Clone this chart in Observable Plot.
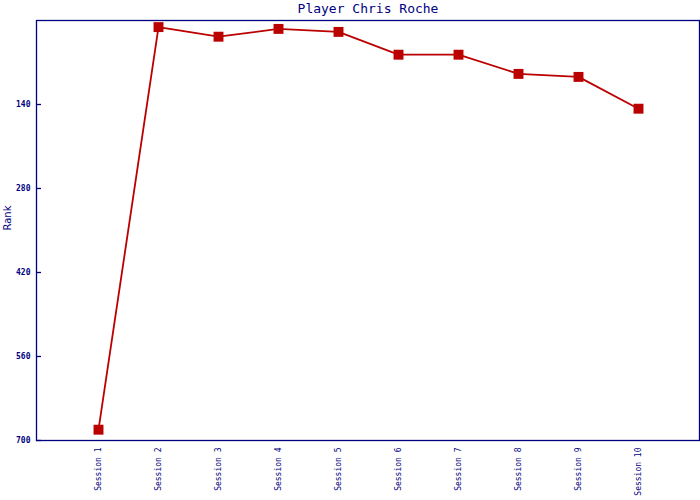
<!DOCTYPE html>
<html>
<head>
<meta charset="utf-8">
<script src="https://cdn.jsdelivr.net/npm/d3@7"></script>
<script src="https://cdn.jsdelivr.net/npm/@observablehq/plot@0.6"></script>
<style>
  body { margin: 0; background: #fff; }
</style>
</head>
<body>
<div id="chart"></div>
<script>
const sessions = ["Session 1","Session 2","Session 3","Session 4","Session 5","Session 6","Session 7","Session 8","Session 9","Session 10"];
const ranks = [682, 11, 27, 14, 19, 57, 57, 89, 94, 147];
const yTicks = [140, 280, 420, 560, 700];
const title = "Player Chris Roche";

const data = sessions.map((s, i) => ({session: s, rank: ranks[i]}));
const navy = "#000080";
const red = "#bb0000";
const W = 700, ML = 36, MR = 1;

const chart = Plot.plot({
  width: W,
  height: 500,
  marginLeft: ML,
  marginRight: MR,
  marginTop: 20,
  marginBottom: 60,
  style: {fontFamily: "DejaVu Sans Mono", color: navy, background: "#fff"},
  x: {type: "point", domain: sessions, padding: 1, label: null},
  y: {domain: [0, 700], reverse: true, label: null},
  marks: [
    Plot.frame({stroke: navy, strokeWidth: 1.3}),
    Plot.axisY({ticks: yTicks, tickSize: 0, tickPadding: 6, fontSize: 8, fontWeight: "bold", fill: navy, label: null}),
    Plot.ruleY(yTicks, {y: d => d, insetRight: W - ML - MR - 5, stroke: navy, strokeWidth: 1.3}),
    Plot.axisX({tickSize: 0, tickPadding: 7, tickRotate: -90, fontSize: 8, fill: navy, label: null}),
    Plot.text([title], {frameAnchor: "top", dy: -12, text: d => d, fontSize: 13, fill: navy, lineAnchor: "middle"}),
    Plot.text(["Rank"], {frameAnchor: "left", dx: -29, rotate: -90, text: d => d, fontSize: 10, fontFamily: "DejaVu Sans", fill: navy}),
    Plot.line(data, {x: "session", y: "rank", stroke: red, strokeWidth: 1.8}),
    Plot.dot(data, {x: "session", y: "rank", symbol: "square", r: 5.6, fill: red, stroke: "none"})
  ]
});
document.getElementById("chart").append(chart);
</script>
</body>
</html>
